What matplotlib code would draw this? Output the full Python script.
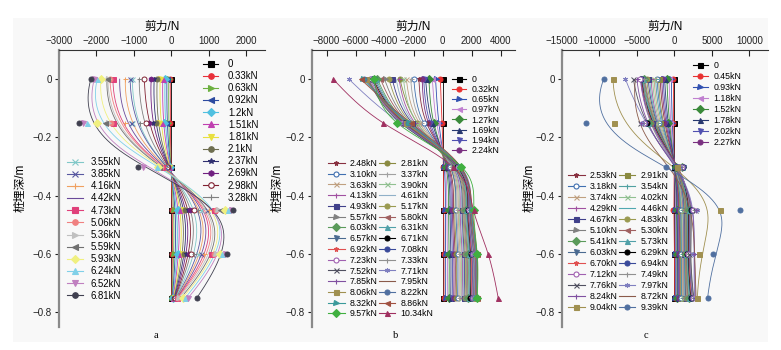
import numpy as np
import matplotlib
matplotlib.use('Agg')
import matplotlib.pyplot as plt
from matplotlib.lines import Line2D
from matplotlib.patches import Rectangle

plt.rcParams['font.family'] = ['Liberation Sans', 'Noto Sans CJK SC', 'DejaVu Sans']
plt.rcParams['axes.unicode_minus'] = True

W, H = 781, 350
depths = [0.0, -0.15, -0.30, -0.45, -0.60, -0.75]

# ---------------- panel a data (shear N at each depth) ----------------
loads_a = ['0', '0.33kN', '0.63kN', '0.92kN', '1.2kN', '1.51kN', '1.81kN', '2.1kN',
           '2.37kN', '2.69kN', '2.98kN', '3.28kN', '3.55kN', '3.85kN', '4.16kN', '4.42kN',
           '4.73kN', '5.06kN', '5.36kN', '5.59kN', '5.93kN', '6.24kN', '6.52kN', '6.81kN']
a_d000 = [0, -30, -70, -120, -170, -230, -300, -380, -460, -540, -720, -860,
          -1040, -1100, -1230, -1380, -1560, -1640, -1690, -1720, -1880, -1980, -2060, -2150]
a_d015 = [0, -30, -80, -130, -190, -250, -330, -420, -500, -590, -690, -850,
          -1040, -1080, -1250, -1400, -1550, -1600, -1700, -1760, -1980, -2250, -2350, -2470]
a_d030 = [0, -10, -20, -30, -40, -50, -60, -80, -90, -100, -120, -140,
          -160, -180, -200, -220, -250, -280, -300, -330, -350, -380, -770, -900]
a_d045 = [0, 30, 80, 130, 180, 240, 300, 370, 440, 510, 600, 700,
          800, 950, 1000, 1080, 1150, 1200, 1250, 1300, 1440, 1520, 1580, 1650]
a_d060 = [0, 30, 70, 120, 170, 220, 280, 340, 400, 460, 530, 600,
          700, 800, 880, 960, 1050, 1130, 1200, 1260, 1300, 1350, 1420, 1480]
a_d075 = [0, 10, 20, 30, 40, 50, 60, 70, 80, 90, 100, 110,
          120, 130, 140, 150, 160, 170, 200, 250, 300, 370, 450, 680]

# ---------------- panel b data ----------------
loads_b = ['0', '0.32kN', '0.65kN', '0.97kN', '1.27kN', '1.69kN', '1.94kN', '2.24kN',
           '2.48kN', '2.81kN', '3.10kN', '3.37kN', '3.63kN', '3.90kN', '4.13kN', '4.61kN',
           '4.93kN', '5.17kN', '5.57kN', '5.80kN', '6.03kN', '6.31kN', '6.57kN', '6.71kN',
           '6.92kN', '7.08kN', '7.23kN', '7.33kN', '7.52kN', '7.71kN', '7.85kN', '7.95kN',
           '8.06kN', '8.22kN', '8.32kN', '8.86kN', '9.57kN', '10.34kN']
b_d000 = [0, -150, -480, -700, -940, -1170, -1300, -1400, -1630, -2940, -1980, -2200,
          -2500, -2700, -3000, -3200, -3470, -3700, -4000, -4280, -4500, -4600, -4700, -4800,
          -4850, -4900, -5000, -5080, -5150, -6460, -5200, -5250, -5310, -5400, -5500, -5650,
          -4740, -7540]
b_d015 = [0, -30, -250, -400, -600, -710, -850, -970, -1100, -1750, -1300, -1450,
          -1600, -1750, -1900, -2000, -2100, -2200, -2300, -2400, -2500, -2550, -2600, -2650,
          -2700, -2750, -2800, -2850, -2900, -2900, -2700, -2600, -2500, -2400, -2300, -2200,
          -3130, -4090]
b_d030 = [0, 60, 120, 180, 240, 300, 350, 400, 450, 500, 550, 600,
          640, 680, 720, 760, 800, 840, 880, 910, 940, 970, 1000, 1020,
          1040, 1060, 1080, 1100, 1120, 1240, 1140, 1160, 1180, 1200, 1220, 1240,
          1300, 700]
b_d045 = [0, 80, 200, 300, 420, 520, 600, 680, 760, 850, 930, 1000,
          1080, 1150, 1220, 1300, 1360, 1420, 1480, 1540, 1600, 1650, 1700, 1750,
          1780, 1810, 1840, 1870, 1900, 1950, 1920, 1940, 1960, 1980, 2000, 2050,
          2150, 2140]
b_d060 = [0, 100, 220, 340, 460, 580, 680, 780, 870, 960, 1050, 1130,
          1210, 1290, 1360, 1430, 1500, 1570, 1640, 1700, 1760, 1820, 1880, 1940,
          1990, 2040, 2080, 2120, 2160, 2200, 2240, 2270, 2300, 2330, 2350, 2370,
          2400, 3150]
b_d075 = [0, 100, 210, 330, 450, 570, 670, 770, 860, 950, 1040, 1120,
          1200, 1280, 1350, 1420, 1490, 1560, 1630, 1690, 1750, 1810, 1870, 1930,
          1980, 2030, 2070, 2110, 2150, 2190, 2230, 2260, 2290, 2320, 2340, 2360,
          2400, 3840]

# ---------------- panel c data ----------------
loads_c = ['0', '0.45kN', '0.93kN', '1.18kN', '1.52kN', '1.78kN', '2.02kN', '2.27kN',
           '2.53kN', '2.91kN', '3.18kN', '3.54kN', '3.74kN', '4.02kN', '4.29kN', '4.46kN',
           '4.67kN', '4.83kN', '5.10kN', '5.30kN', '5.41kN', '5.73kN', '6.03kN', '6.29kN',
           '6.70kN', '6.94kN', '7.12kN', '7.49kN', '7.76kN', '7.97kN', '8.24kN', '8.72kN',
           '9.04kN', '9.39kN']
c_d000 = [0, -130, -400, -700, -1000, -1300, -1500, -1700, -1900, -2100, -2300, -2500,
          -2700, -2900, -3100, -3300, -3500, -3700, -3900, -4000, -4100, -4200, -4300, -4400,
          -4450, -4500, -4530, -4000, -5470, -6530, -5000, -5200, -8180, -9430]
c_d015 = [0, -130, -350, -600, -800, -1000, -1200, -1400, -1600, -1870, -2000, -2200,
          -2400, -2600, -2800, -2900, -3000, -3100, -3200, -3300, -3400, -3500, -3600, -3700,
          -3800, -3900, -4000, -4200, -4530, -4300, -4400, -5870, -8090, -11730]
c_d030 = [0, 50, 100, 150, 200, 250, 300, 350, 400, 450, 500, 550,
          600, 650, 700, 750, 800, 850, 900, 950, 1000, 1050, 1100, 1150,
          1200, 1100, 1000, 900, 800, 700, 600, -300, 300, -1100]
c_d045 = [0, -130, 100, 200, 300, 400, 500, 600, 700, 800, 900, 1000,
          1100, 1200, 1300, 1400, 1500, 1600, 1700, 1800, 1900, 2000, 2100, 2200,
          2300, 2400, 2500, 2600, 2800, 3030, 2900, 2700, 6130, 8710]
c_d060 = [0, 50, 150, 250, 350, 450, 550, 650, 750, 850, 950, 1030,
          1100, 1200, 1250, 1300, 1350, 1400, 1450, 1500, 1550, 1600, 1650, 1700,
          1750, 1800, 1830, 1870, 1900, 2500, 2600, 2700, 3330, 5110]
c_d075 = [0, 50, 150, 250, 350, 450, 550, 650, 750, 850, 950, 1000,
          1100, 1200, 1300, 1400, 1500, 1600, 1700, 1800, 1900, 2000, 2100, 2200,
          2300, 2400, 2500, 2530, 2600, 2700, 2800, 2900, 3070, 4440]

yticks = [0, -0.2, -0.4, -0.6, -0.8]
ytick_labels = ['0', '\u22120.2', '\u22120.4', '\u22120.6', '\u22120.8']
xticks_a = [-3000, -2000, -1000, 0, 1000, 2000]
xticks_b = [-8000, -6000, -4000, -2000, 0, 2000, 4000]
xticks_c = [-15000, -10000, -5000, 0, 5000, 10000]

# ---------------- styles (colour, marker, open?) ----------------
styles_a = [('#000000', 's', False), ('#e8303a', 'o', False), ('#6cb040', '>', False),
            ('#2c4aa0', '<', False), ('#50c0e0', 'D', False), ('#c040b0', '^', False),
            ('#e8e040', 'v', False), ('#6e6e50', 'o', False), ('#303070', '*', False),
            ('#702080', 'h', False), ('#802030', 'o', True), ('#808080', '+', False),
            ('#80c8c8', 'x', False), ('#5858a0', 'x', False), ('#f0a060', '+', False),
            ('#6a4a9a', '', False), ('#e0407a', 's', False), ('#f08080', 'o', False),
            ('#c0c0c0', '>', False), ('#707070', '<', False), ('#f0f080', 'D', False),
            ('#80d0e8', '^', False), ('#c080c0', 'v', False), ('#404050', 'o', False)]
styles_b = [('#000000', 's', False), ('#e83030', 'o', False), ('#3050b0', '>', False),
            ('#c080d0', '<', False), ('#3a8a3a', 'D', False), ('#283870', '^', False),
            ('#5050b0', 'v', False), ('#7a3080', 'o', False), ('#883040', '*', False),
            ('#8a8a40', 'o', False), ('#4070b0', 'o', True), ('#a0a0a0', '+', False),
            ('#c0a080', 'x', False), ('#90c090', 'x', False), ('#a050a0', '+', False),
            ('#90b0c8', '', False), ('#40408a', 's', False), ('#9a9a50', 'o', False),
            ('#808080', '>', False), ('#a06060', '<', False), ('#5a9a5a', 'D', False),
            ('#50a0a8', '^', False), ('#4a6a90', 'v', False), ('#000000', 'o', False),
            ('#e05050', '*', False), ('#3a4a9a', 'o', False), ('#a060b0', 'o', True),
            ('#909090', '+', False), ('#505060', 'x', False), ('#8080c0', (6, 2, 0), False),
            ('#8050a0', '+', False), ('#8a5a4a', '', False), ('#a09050', 's', False),
            ('#5070a0', 'o', False), ('#3a9a9a', '>', False), ('#a05040', '<', False),
            ('#40b040', 'D', False), ('#a03060', '^', False)]
styles_c = list(styles_b[:34])
styles_c[9] = ('#8a8a40', 's', False)
styles_c[11] = ('#50a0a0', '+', False)
styles_c[15] = ('#50a8b0', '', False)


def px(x, y):
    return x / W, 1 - y / H


def natural_spline(t, v, ts):
    t = np.asarray(t, float)
    v = np.asarray(v, float)
    n = len(t)
    h = np.diff(t)
    A = np.zeros((n, n))
    r = np.zeros(n)
    A[0, 0] = A[-1, -1] = 1
    for i in range(1, n - 1):
        A[i, i - 1] = h[i - 1]
        A[i, i] = 2 * (h[i - 1] + h[i])
        A[i, i + 1] = h[i]
        r[i] = 6 * ((v[i + 1] - v[i]) / h[i] - (v[i] - v[i - 1]) / h[i - 1])
    M = np.linalg.solve(A, r)
    idx = np.clip(np.searchsorted(t, ts) - 1, 0, n - 2)
    t0, t1 = t[idx], t[idx + 1]
    hh = t1 - t0
    a = (t1 - ts) / hh
    b = (ts - t0) / hh
    return a * v[idx] + b * v[idx + 1] + ((a ** 3 - a) * M[idx] + (b ** 3 - b) * M[idx + 1]) * hh ** 2 / 6


def bspline_basis(n_ctrl, k=3, npts=200):
    inner = np.linspace(0, 1, n_ctrl - k + 1)
    knots = np.concatenate([np.zeros(k), inner, np.ones(k)])
    u = np.linspace(0, 1, npts)
    u[-1] -= 1e-9
    N = np.array([((knots[i] <= u) & (u < knots[i + 1])).astype(float)
                  for i in range(len(knots) - 1)])
    for d in range(1, k + 1):
        Nn = np.zeros((len(knots) - 1 - d, npts))
        for i in range(len(knots) - 1 - d):
            den1 = knots[i + d] - knots[i]
            den2 = knots[i + d + 1] - knots[i + 1]
            if den1 > 0:
                Nn[i] += (u - knots[i]) / den1 * N[i]
            if den2 > 0:
                Nn[i] += (knots[i + d + 1] - u) / den2 * N[i + 1]
        N = Nn
    return N.T


fig = plt.figure(figsize=(W / 100, H / 100), dpi=100)
fig.patches.append(Rectangle(px(13, 342), 755 / W, 324 / H, transform=fig.transFigure,
                             facecolor='#f8f8f8', edgecolor='none', zorder=-10))


def handle(st, ms):
    col, mk, op = st
    return Line2D([], [], color=col, lw=0.8, marker=mk if mk else None, ms=ms,
                  mfc='white' if op else col, mec=col, mew=0.8)


def panel(rect, loads, rows, styles, xlim, xticks, ylab_x, letter, letter_x, mode):
    ax = fig.add_axes([rect[0] / W, 1 - 327 / H, (rect[1] - rect[0]) / W, 277 / H])
    ax.set_facecolor('none')
    yy = np.array(depths)
    B = bspline_basis(len(yy))
    grid = np.linspace(0, 0.75, 150)
    n = len(loads)
    for i in range(n):
        vals = np.array([r[i] for r in rows], dtype=float)
        col, mk, op = styles[i]
        if mode == 'bspline':
            cx, cy = B @ vals, B @ yy
        else:
            cx, cy = natural_spline(-yy, vals, grid), -grid
        ax.plot(cx, cy, color=col, lw=0.6, zorder=2)
        if mk:
            ax.plot(vals, yy, ls='none', marker=mk, ms=3.6, color=col,
                    mfc='white' if op else col, mec=col, mew=0.7, zorder=3)
    ax.set_xlim(*xlim)
    ax.set_ylim(-0.85, 0.1)
    ax.set_yticks(yticks)
    ax.set_yticklabels(ytick_labels)
    ax.set_xticks(xticks)
    ax.set_xticklabels([('\u2212' + str(-t)) if t < 0 else str(t) for t in xticks])
    ax.xaxis.tick_top()
    ax.xaxis.set_label_position('top')
    ax.tick_params(axis='x', direction='in', length=4, width=0.8, labelsize=7, pad=3,
                   colors='#222222')
    ax.tick_params(axis='y', direction='out', length=3, width=0.8, labelsize=7, pad=2,
                   colors='#222222')
    for s in ['right', 'bottom']:
        ax.spines[s].set_visible(False)
    ax.spines['left'].set_color('#8a8a8a')
    ax.spines['left'].set_linewidth(1.6)
    ax.spines['top'].set_color('#333333')
    ax.spines['top'].set_linewidth(0.8)
    ax.set_xlabel('剪力/N', fontsize=8.5, labelpad=4)
    fig.text(ylab_x / W, 1 - 188 / H, '桩埋深/m', rotation=90, fontsize=8.5,
             ha='center', va='center')
    fig.text(letter_x / W, 1 - 335 / H, letter, fontsize=7.5, ha='center', va='center',
             family=['Liberation Serif', 'DejaVu Serif'])
    return ax


# panel a
rows_a = [a_d000, a_d015, a_d030, a_d045, a_d060, a_d075]
ax_a = panel((59, 265), loads_a, rows_a, styles_a, (-3000, 2500), xticks_a, 21, 'a', 156, 'bspline')
h = [handle(s, 4) for s in styles_a]
leg1 = ax_a.legend(h[:12], loads_a[:12], loc='upper left', bbox_to_anchor=px(203, 59),
                   bbox_transform=fig.transFigure, frameon=False, fontsize=6.9,
                   handlelength=1.6, handletextpad=1.0, labelspacing=0.225,
                   borderpad=0, borderaxespad=0)
ax_a.add_artist(leg1)
ax_a.legend(h[12:], loads_a[12:], loc='upper left', bbox_to_anchor=px(67, 157),
            bbox_transform=fig.transFigure, frameon=False, fontsize=6.9,
            handlelength=1.7, handletextpad=0.8, labelspacing=0.225,
            borderpad=0, borderaxespad=0)

# panel b
rows_b = [b_d000, b_d015, b_d030, b_d045, b_d060, b_d075]
ax_b = panel((312, 515), loads_b, rows_b, styles_b, (-9000, 5000), xticks_b, 278, 'b', 396, 'spline')
h = [handle(s, 3.6) for s in styles_b]
leg1 = ax_b.legend(h[:8], loads_b[:8], loc='upper left', bbox_to_anchor=px(452, 75),
                   bbox_transform=fig.transFigure, frameon=False, fontsize=6.3,
                   handlelength=1.6, handletextpad=0.6, labelspacing=0.13,
                   borderpad=0, borderaxespad=0)
ax_b.add_artist(leg1)
hl, ll = h[8:], loads_b[8:]
ax_b.legend(hl[0::2] + hl[1::2], ll[0::2] + ll[1::2], ncol=2, loc='upper left',
            bbox_to_anchor=px(328, 159), bbox_transform=fig.transFigure, frameon=False,
            fontsize=6.3, handlelength=1.9, handletextpad=0.6, labelspacing=0.2,
            columnspacing=0.1, borderpad=0, borderaxespad=0)

# panel c
rows_c = [c_d000, c_d015, c_d030, c_d045, c_d060, c_d075]
ax_c = panel((562, 768), loads_c, rows_c, styles_c, (-15000, 12500), xticks_c, 530, 'c', 646, 'bspline')
h = [handle(s, 3.6) for s in styles_c]
leg1 = ax_c.legend(h[:8], loads_c[:8], loc='upper left', bbox_to_anchor=px(693, 61),
                   bbox_transform=fig.transFigure, frameon=False, fontsize=6.3,
                   handlelength=1.7, handletextpad=0.6, labelspacing=0.23,
                   borderpad=0, borderaxespad=0)
ax_c.add_artist(leg1)
hl, ll = h[8:], loads_c[8:]
ax_c.legend(hl[0::2] + hl[1::2], ll[0::2] + ll[1::2], ncol=2, loc='upper left',
            bbox_to_anchor=px(568, 171), bbox_transform=fig.transFigure, frameon=False,
            fontsize=6.3, handlelength=1.9, handletextpad=0.6, labelspacing=0.23,
            columnspacing=0.1, borderpad=0, borderaxespad=0)

fig.savefig('out.png', dpi=100)
